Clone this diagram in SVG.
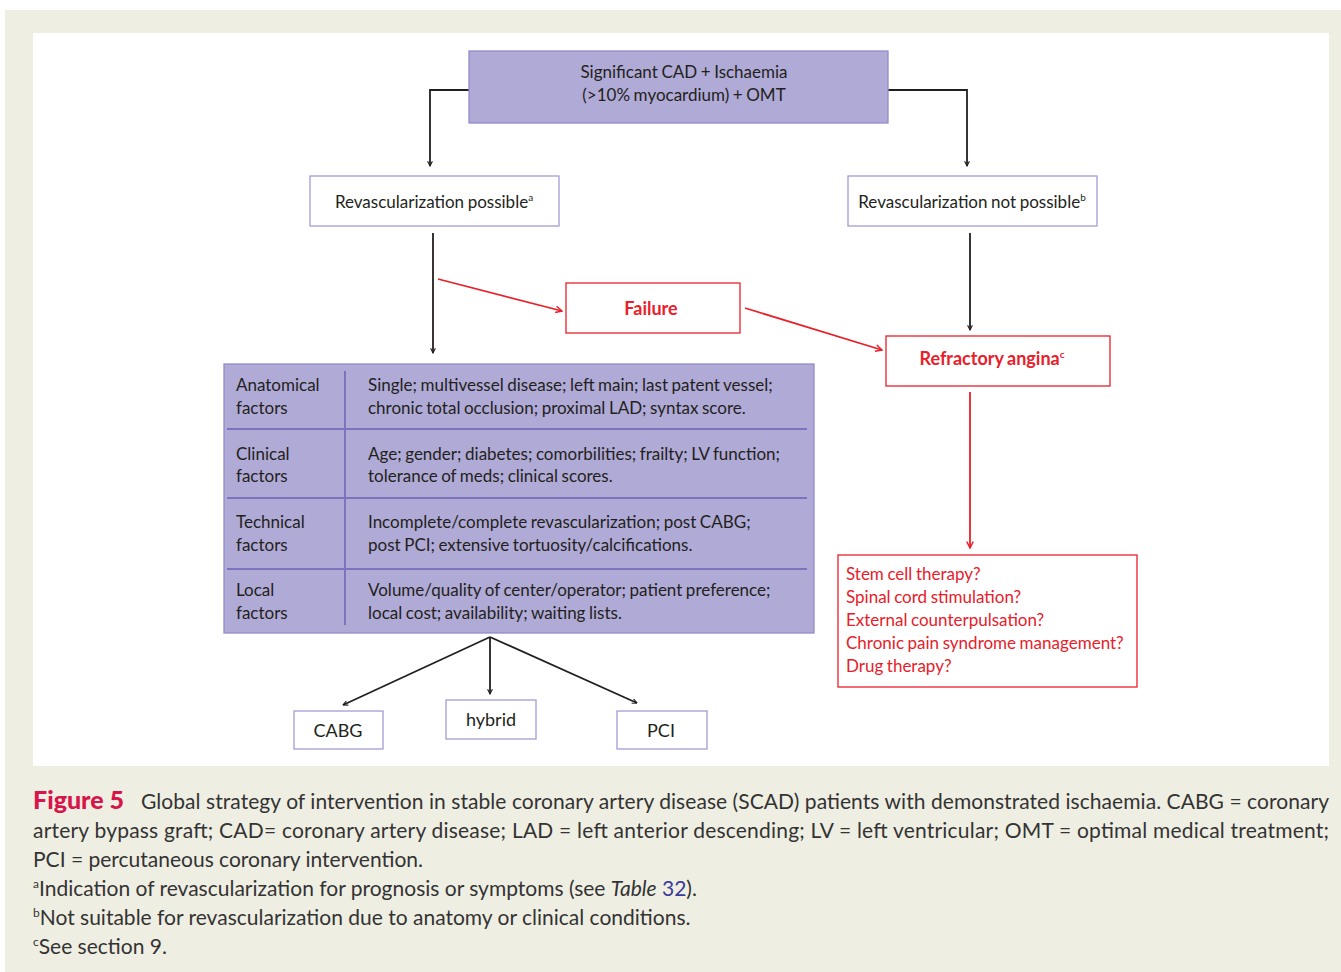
<svg xmlns="http://www.w3.org/2000/svg" width="1341" height="972" viewBox="0 0 1341 972">
<style>
.t{font-family:Lato,"Open Sans","Liberation Sans",sans-serif;fill:#231f20;font-size:17px;word-spacing:-0.8px}
.tc{text-anchor:middle}
.r{fill:#e8202a}
.b{font-weight:bold}
.box{fill:#fff;stroke:#a49dd6;stroke-width:1.3}
.rbox{fill:#fff;stroke:#e8202a;stroke-width:1.3}
.lav{fill:#b0aad6;stroke:#948cc9;stroke-width:1.3}
.div{stroke:#7b73bd;stroke-width:2;fill:none}
.k{stroke:#231f20;stroke-width:1.8;fill:none}
.rl{stroke:#e8202a;stroke-width:1.8;fill:none}
.cap{font-family:Lato,"Open Sans","Liberation Sans",sans-serif;fill:#333;font-size:21px}
</style>
<defs>
<marker id="ak" viewBox="0 0 10 10" refX="9" refY="5" markerWidth="6" markerHeight="6" orient="auto" markerUnits="userSpaceOnUse"><path d="M1,1 L9,5 L1,9" fill="none" stroke="#231f20" stroke-width="1.8"/></marker>
<marker id="ar" viewBox="0 0 10 10" refX="9" refY="5" markerWidth="8" markerHeight="8" orient="auto" markerUnits="userSpaceOnUse"><path d="M1,1 L9,5 L1,9" fill="none" stroke="#e8202a" stroke-width="1.8"/></marker>
</defs>
<rect x="5" y="10" width="1336" height="962" fill="#efeee3"/>
<rect x="33" y="33" width="1296" height="733" fill="#fff"/>

<g id="connectors">
<path class="k" d="M469,90 H430 V166" marker-end="url(#ak)"/>
<path class="k" d="M888,90 H967 V166" marker-end="url(#ak)"/>
<path class="k" d="M433,233 V353" marker-end="url(#ak)"/>
<path class="k" d="M970,233 V330" marker-end="url(#ak)"/>
<path class="rl" d="M438,279 L562,311" marker-end="url(#ar)"/>
<path class="rl" d="M745,308 L882,350" marker-end="url(#ar)"/>
<path class="rl" d="M970,392 V548" marker-end="url(#ar)"/>
<path class="k" d="M490,637 L343,705" marker-end="url(#ak)"/>
<path class="k" d="M490,637 V694" marker-end="url(#ak)"/>
<path class="k" d="M490,637 L637,703" marker-end="url(#ak)"/>
</g>

<g id="top">
<rect class="lav" x="469" y="51" width="419" height="72"/>
<text class="t tc" x="684" y="78">Significant CAD + Ischaemia</text>
<text class="t tc" x="684" y="101">(&gt;10% myocardium) + OMT</text>
</g>

<g id="possible">
<rect class="box" x="310" y="176" width="249" height="50"/>
<text class="t tc" x="434" y="208">Revascularization possible<tspan font-size="10" dy="-7">a</tspan></text>
</g>

<g id="notpossible">
<rect class="box" x="848" y="176" width="249" height="50"/>
<text class="t tc" x="972" y="208">Revascularization not possible<tspan font-size="10" dy="-7">b</tspan></text>
</g>

<g id="failure">
<rect class="rbox" x="566" y="283" width="174" height="50"/>
<text class="t tc r b" x="651" y="315" style="font-size:18px">Failure</text>
</g>

<g id="refractory">
<rect class="rbox" x="886" y="336" width="224" height="50"/>
<text class="t tc r b" x="992" y="365" style="font-size:18px">Refractory angina<tspan font-size="10" dy="-7">c</tspan></text>
</g>

<g id="therapies">
<rect class="rbox" x="838" y="555" width="299" height="132"/>
<text class="t r" x="846" y="580">Stem cell therapy?</text>
<text class="t r" x="846" y="603">Spinal cord stimulation?</text>
<text class="t r" x="846" y="626">External counterpulsation?</text>
<text class="t r" x="846" y="649">Chronic pain syndrome management?</text>
<text class="t r" x="846" y="672">Drug therapy?</text>
</g>

<g id="factors">
<rect class="lav" x="224" y="364" width="590" height="269"/>
<path class="div" d="M345,371 V625 M227,429 H807 M227,498 H807 M227,569 H807"/>
<text class="t" x="236" y="391">Anatomical</text>
<text class="t" x="236" y="414">factors</text>
<text class="t" x="368" y="391">Single; multivessel disease; left main; last patent vessel;</text>
<text class="t" x="368" y="414">chronic total occlusion; proximal LAD; syntax score.</text>
<text class="t" x="236" y="460">Clinical</text>
<text class="t" x="236" y="482">factors</text>
<text class="t" x="368" y="460">Age; gender; diabetes; comorbilities; frailty; LV function;</text>
<text class="t" x="368" y="482">tolerance of meds; clinical scores.</text>
<text class="t" x="236" y="528">Technical</text>
<text class="t" x="236" y="551">factors</text>
<text class="t" x="368" y="528">Incomplete/complete revascularization; post CABG;</text>
<text class="t" x="368" y="551">post PCI; extensive tortuosity/calcifications.</text>
<text class="t" x="236" y="596">Local</text>
<text class="t" x="236" y="619">factors</text>
<text class="t" x="368" y="596">Volume/quality of center/operator; patient preference;</text>
<text class="t" x="368" y="619">local cost; availability; waiting lists.</text>
</g>

<g id="cabg">
<rect class="box" x="294" y="711" width="89" height="38"/>
<text class="t tc" x="338" y="737" style="font-size:18px">CABG</text>
</g>
<g id="hybrid">
<rect class="box" x="446" y="700" width="90" height="39"/>
<text class="t tc" x="491" y="726" style="font-size:18px">hybrid</text>
</g>
<g id="pci">
<rect class="box" x="617" y="711" width="90" height="38"/>
<text class="t tc" x="661" y="737" style="font-size:18px">PCI</text>
</g>

<g id="caption">
<text class="cap b" x="33" y="809" style="fill:#d6154b;font-size:25px;font-weight:900">Figure 5</text>
<text class="cap" x="141" y="809" textLength="1188" lengthAdjust="spacing">Global strategy of intervention in stable coronary artery disease (SCAD) patients with demonstrated ischaemia. CABG = coronary</text>
<text class="cap" x="33" y="838" textLength="1296" lengthAdjust="spacing">artery bypass graft; CAD= coronary artery disease; LAD = left anterior descending; LV = left ventricular; OMT = optimal medical treatment;</text>
<text class="cap" x="33" y="867">PCI = percutaneous coronary intervention.</text>
<text class="cap" x="33" y="896"><tspan font-size="12" dy="-8">a</tspan><tspan dy="8">Indication of revascularization for prognosis or symptoms (see </tspan><tspan font-style="italic">Table</tspan> <tspan style="fill:#3a3a9a">32</tspan>).</text>
<text class="cap" x="33" y="925"><tspan font-size="12" dy="-8">b</tspan><tspan dy="8">Not suitable for revascularization due to anatomy or clinical conditions.</tspan></text>
<text class="cap" x="33" y="954"><tspan font-size="12" dy="-8">c</tspan><tspan dy="8">See section 9.</tspan></text>
</g>
</svg>
